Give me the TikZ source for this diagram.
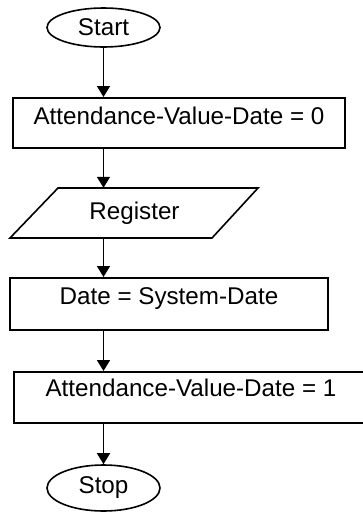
\documentclass[tikz,border=0pt]{standalone}
\usepackage{fontspec}
\setmainfont{Liberation Sans}
\usetikzlibrary{shapes.geometric,arrows.meta}
\begin{document}
\begin{tikzpicture}[x=1pt,y=-1pt,
  every node/.style={font=\fontsize{24.2}{28}\selectfont, inner sep=0pt},
  term/.style={ellipse, draw, line width=1.6pt},
  procbox/.style={rectangle, draw, line width=1.6pt, anchor=north},
  shape line/.style={line width=1.6pt, line join=miter},
  arr/.style={line width=1.6pt, -{Triangle[length=11pt,width=13pt]}}]
\useasboundingbox (0,0) rectangle (362,512);
\node[term, minimum width=113pt, minimum height=39pt] (start) at (103.5,27.5) {Start};
\node[procbox, minimum width=332pt, text height=26.5pt, text depth=23.5pt] (b1) at (179,97) {Attendance-Value-Date = 0};
% input/output parallelogram
\coordinate (p1) at (58,188);
\coordinate (p2) at (258,188);
\coordinate (p3) at (212,238);
\coordinate (p4) at (10,238);
\draw[shape line] (p1) -- (p2) -- (p3) -- (p4) -- cycle;
\node[minimum height=50pt] (reg) at (134.5,213) {Register};
\node[procbox, minimum width=318pt, text height=26.5pt, text depth=25.5pt] (b2) at (169,277) {Date = System-Date};
\node[procbox, minimum width=354pt, text height=24.5pt, text depth=26.5pt] (b3) at (191,371) {Attendance-Value-Date = 1};
\node[term, minimum width=113pt, minimum height=46pt] (stop) at (103.5,488) {Stop};
\draw[arr] (start.south) -- (b1.north -| start.south);
\draw[arr] (b1.south -| start.south) -- (reg.north -| start.south);
\draw[arr] (reg.south -| start.south) -- (b2.north -| start.south);
\draw[arr] (b2.south -| start.south) -- (b3.north -| start.south);
\draw[arr] (b3.south -| start.south) -- (stop.north);
\end{tikzpicture}
\end{document}
